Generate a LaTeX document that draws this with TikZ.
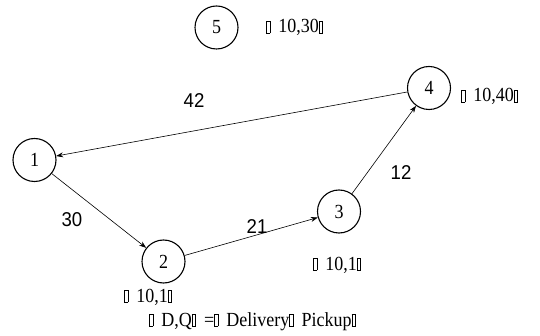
\documentclass[tikz,border=0pt]{standalone}
\usepackage{fontspec}
\setmainfont[FakeStretch=0.9]{Liberation Serif}
\newfontfamily\arialf[FakeStretch=0.93]{Liberation Sans}
\newcommand{\tf}{\hbox{\fboxsep0pt\fboxrule0.7pt\fbox{\rule{0pt}{11.5pt}\hspace{2.8pt}}}\hspace{8pt}}
\usetikzlibrary{arrows.meta}
\begin{document}
\begin{tikzpicture}[x=1pt,y=-1pt,
  city/.style={circle,draw,line width=1.1pt,minimum size=43pt,inner sep=0pt,font=\fontsize{20}{20}\selectfont},
  edge/.style={-{Stealth[length=7pt,width=5pt]},line width=0.6pt},
  elab/.style={font=\arialf\fontsize{20}{20}\selectfont,inner sep=0pt},
  dq/.style={font=\fontsize{20}{20}\selectfont,inner sep=0pt,anchor=base west}]
\useasboundingbox (0,0) rectangle (540,336);
\node[city] (n5) at (216.5,27.5) {5};
\node[city] (n4) at (429,88) {4};
\node[city] (n1) at (34.5,160) {1};
\node[city] (n2) at (163.5,261.5) {2};
\node[city] (n3) at (339,211.5) {3};
\draw[edge] (n4) -- (n1);
\draw[edge] (n1) -- (n2);
\draw[edge] (n2) -- (n3);
\draw[edge] (n3) -- (n4);
\node[elab] (l42) at (194,101) {42};
\node[elab] (l30) at (72,220) {30};
\node[elab] (l21) at (257,227) {21};
\node[elab] (l12) at (401,173) {12};
\node[dq] (d5) at (266,33) {\tf 10,30\tf};
\node[dq] (d4) at (461,102) {\tf 10,40\tf};
\node[dq] (d3) at (313,270) {\tf 10,1\tf};
\node[dq] (d2) at (124,302) {\tf 10,1\tf};
\node[dq] (key) at (149,326) {\tf D,Q\tf =\tf Delivery\tf Pickup\tf};
\end{tikzpicture}
\end{document}
